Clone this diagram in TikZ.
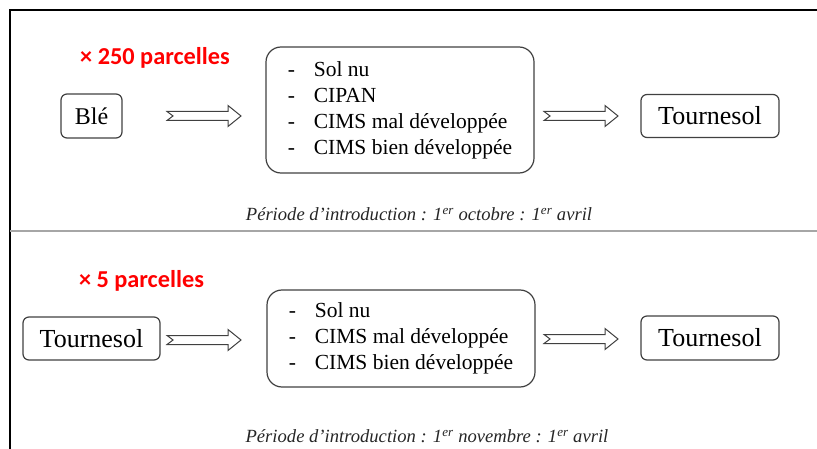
\documentclass[tikz,border=0pt]{standalone}
\usepackage{fontspec}
\setmainfont{Liberation Serif}
\newfontfamily\redfont{Carlito}
\definecolor{boxgray}{HTML}{404040}
\definecolor{sepgray}{HTML}{A6A6A6}
\definecolor{redtxt}{HTML}{FF0000}
\tikzset{
  box/.style={draw=boxgray, line width=1.2pt, rounded corners=6pt, inner sep=0pt,
    font=\fontsize{24}{28}\selectfont},
  bigbox/.style={box, font=\fontsize{26}{30}\selectfont},
  listbox/.style={draw=boxgray, line width=1.2pt, rounded corners=15pt, inner sep=0pt,
    minimum width=268pt, align=left, font=\fontsize{21.5}{26}\selectfont},
  redlabel/.style={text=redtxt, font=\redfont\bfseries\fontsize{24.3}{28}\selectfont, inner sep=0pt},
  periode/.style={font=\itshape\fontsize{18.6}{22}\selectfont, text=black!85, inner sep=0pt},
  arrowline/.style={draw=boxgray, line width=1pt, fill=white, line join=miter},
  fatarrow/.pic={\path[arrowline] (0,-4.5) -- (61,-4.5) -- (61,-10.5) -- (74,0) -- (61,10.5)
      -- (61,4.5) -- (0,4.5) -- (6,0) -- cycle;}
}
\newcommand{\dashitem}[1]{\makebox[26pt][l]{-}#1}
\begin{document}
\begin{tikzpicture}[x=1pt, y=-1pt]
\useasboundingbox (0,0) rectangle (817,449);
% frame
\draw[black, line width=1.5pt] (817,10) -- (10,10) -- (10,449);
\draw[sepgray, line width=2pt] (10,231) -- (817,231);

% row 1
\node[redlabel] (red1) at (155,58) {× 250 parcelles};
\node[box, minimum width=61pt, minimum height=44pt] (ble) at (91.5,116) {Blé};
\node[listbox, minimum height=126pt] (mid1) at (400,110) {\dashitem{Sol nu}\\ \dashitem{CIPAN}\\ \dashitem{CIMS mal développée}\\ \dashitem{CIMS bien développée}};
\node[bigbox, minimum width=138pt, minimum height=43pt] (tour1) at (710,116) {Tournesol};
\coordinate (a1) at (167,116);
\coordinate (a2) at (544,116);
\pic at (a1) {fatarrow};
\pic at (a2) {fatarrow};
\node[periode] (per1) at (419,214) {Période d’introduction : 1\textsuperscript{er} octobre : 1\textsuperscript{er} avril};

% row 2
\node[redlabel] (red2) at (141.5,281) {× 5 parcelles};
\node[bigbox, minimum width=137pt, minimum height=43pt] (tour2) at (91.5,338.5) {Tournesol};
\node[listbox, minimum height=97pt] (mid2) at (401,338.5) {\dashitem{Sol nu}\\ \dashitem{CIMS mal développée}\\ \dashitem{CIMS bien développée}};
\node[bigbox, minimum width=138pt, minimum height=44pt] (tour3) at (710,338) {Tournesol};
\coordinate (a3) at (167,340);
\coordinate (a4) at (544,339);
\pic at (a3) {fatarrow};
\pic at (a4) {fatarrow};
\node[periode] (per2) at (427,436) {Période d’introduction : 1\textsuperscript{er} novembre : 1\textsuperscript{er} avril};
\end{tikzpicture}
\end{document}
